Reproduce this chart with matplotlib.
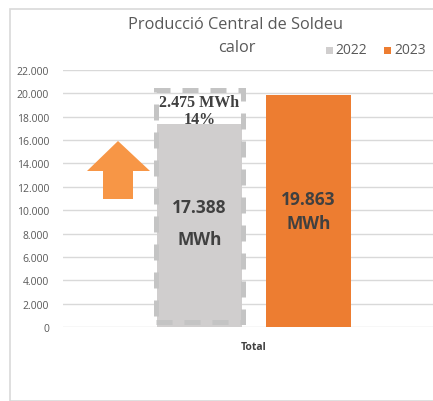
import matplotlib
matplotlib.use("Agg")
import matplotlib.pyplot as plt
from matplotlib.patches import Rectangle, Polygon
from matplotlib.ticker import FuncFormatter

categories = ["Total"]
years = ["2022", "2023"]
values_2022 = [17388]
values_2023 = [19863]
bar_labels_2022 = ["17.388\nMWh"]
bar_labels_2023 = ["19.863\nMWh"]
diff_label = "2.475 MWh\n14%"
title_lines = ["Producció Central de Soldeu", "calor"]
yticks = list(range(0, 22001, 2000))

plt.rcParams['font.family'] = ['Open Sans', 'DejaVu Sans']

W, H = 433, 402
fig = plt.figure(figsize=(W/100, H/100), dpi=100)
fig.patch.set_facecolor('white')

# chart frame
frame = Rectangle((10/W, 0.0), 1.2, 1 - 10/H, transform=fig.transFigure,
                  fill=False, edgecolor='#D9D9D9', linewidth=1.2)
fig.patches.append(frame)

ax_left, ax_right = 63/W, 1.0
ax_bot, ax_top = 1 - 328/H, 1 - 71/H
ax = fig.add_axes([ax_left, ax_bot, ax_right - ax_left, ax_top - ax_bot])
ax.set_ylim(0, 22000)
ax.set_xlim(-0.899, 0.842)
ax.set_facecolor('none')

bw = 0.4
gap = 0.113
off = bw/2 + gap/2
c_gray = '#D0CECE'
c_orange = '#ED7D31'

ax.set_yticks(yticks)
ax.yaxis.set_major_formatter(FuncFormatter(lambda v, p: f"{int(v):,}".replace(",", ".")))
ax.grid(axis='y', color='#D9D9D9', linewidth=1)
ax.set_axisbelow(True)
for s in ax.spines.values():
    s.set_visible(False)
ax.tick_params(axis='y', length=0, labelsize=7.5, labelcolor='#595959', pad=10)
ax.tick_params(axis='x', length=0, labelsize=7.5, labelcolor='#404040', pad=10)

xs = [0]
b1 = ax.bar([x - off for x in xs], values_2022, width=bw, color=c_gray, zorder=2)
b2 = ax.bar([x + off for x in xs], values_2023, width=bw, color=c_orange, zorder=2)
ax.set_xticks(xs)
ax.set_xticklabels(categories, fontweight='bold')

# dashed outline box around the 2022 bar, reaching the 2023 level
margin = 420
for x, v in zip(xs, values_2023):
    r = Rectangle((x - off - bw/2 - 0.005, margin), bw + 0.01, v - margin + 450,
                  fill=False, edgecolor='#C4C4C4', linewidth=3.6,
                  linestyle=(0, (3.2, 2.4)), zorder=3)
    ax.add_patch(r)

for x, v, lab in zip(xs, values_2022, bar_labels_2022):
    ax.text(x - off, 8900, lab, ha='center', va='center', fontsize=12.5,
            fontweight='bold', color='#404040', linespacing=1.95, zorder=4)
for x, v, lab in zip(xs, values_2023, bar_labels_2023):
    ax.text(x + off, 9900, lab, ha='center', va='center', fontsize=12.5,
            fontweight='bold', color='#404040', linespacing=1.45, zorder=4)
for x, v1, v2 in zip(xs, values_2022, values_2023):
    ax.text(x - off, (v1 + v2)/2 - 100, diff_label, ha='center', va='center',
            fontsize=11.5, fontweight='bold', color='#404040',
            family='Liberation Serif', linespacing=1.05, zorder=4)

# up arrow (decoration) in figure pixel coords
pts = [(118, 142), (150, 172), (133, 172), (133, 200), (103, 200), (103, 172), (87, 172)]
arrow = Polygon([(px/W, 1 - py/H) for px, py in pts], closed=True,
                transform=fig.transFigure, facecolor='#F79646', edgecolor='none')
fig.patches.append(arrow)

# title
fig.text(236/W, 1 - 25/H, title_lines[0], ha='center', va='center',
         fontsize=11.8, color='#595959')
fig.text(237/W, 1 - 48/H, title_lines[1], ha='center', va='center',
         fontsize=11.8, color='#595959')

# legend
for (lx, tx, col, yr) in [(326, 335, c_gray, years[0]), (384, 394, c_orange, years[1])]:
    fig.patches.append(Rectangle((lx/W, 1 - 55/H), 7/W, 7/H, transform=fig.transFigure,
                                 facecolor=col, edgecolor='none'))
    fig.text(tx/W, 1 - 51/H, yr, ha='left', va='center', fontsize=10, color='#595959')

fig.savefig('out.png', dpi=100)
